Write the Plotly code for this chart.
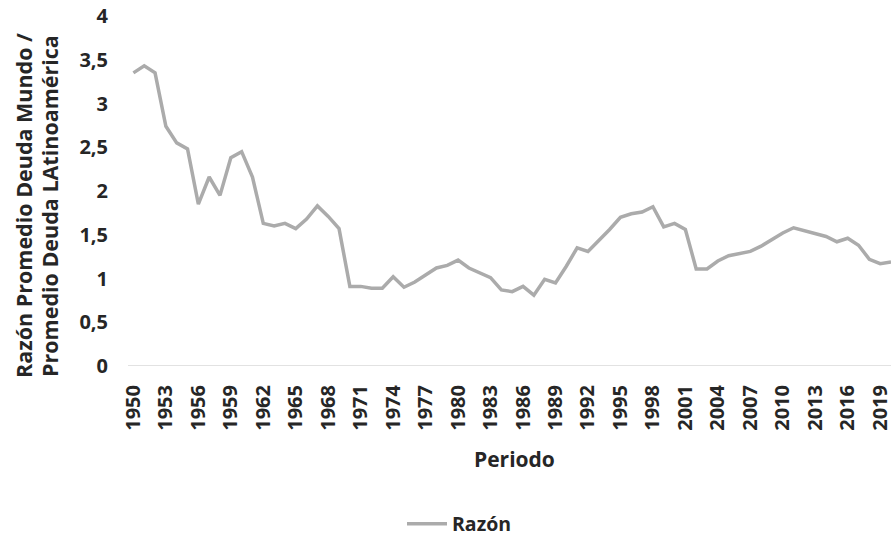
import plotly.graph_objects as go

years = list(range(1950, 2021))
razon = [3.35, 3.43, 3.35, 2.74, 2.55, 2.48, 1.85, 2.16, 1.95, 2.38,
         2.45, 2.16, 1.63, 1.60, 1.63, 1.57, 1.68, 1.83, 1.71, 1.57,
         0.91, 0.91, 0.89, 0.89, 1.02, 0.90, 0.96, 1.04, 1.12, 1.15,
         1.21, 1.12, 1.06, 1.01, 0.87, 0.85, 0.91, 0.81, 0.99, 0.95,
         1.14, 1.35, 1.31, 1.43, 1.56, 1.70, 1.74, 1.76, 1.82, 1.59,
         1.63, 1.56, 1.11, 1.11, 1.20, 1.26, 1.29, 1.31, 1.37, 1.45,
         1.52, 1.58, 1.55, 1.51, 1.48, 1.42, 1.46, 1.38, 1.22, 1.17,
         1.19]
tick_years = list(range(1950, 2020, 3))
y_ticks = [0, 0.5, 1, 1.5, 2, 2.5, 3, 3.5, 4]
y_title_lines = ["Razón Promedio Deuda Mundo /", "Promedio Deuda LAtinoamérica"]

FONT = "Open Sans"
TXT = "#262626"
W, H = 891, 537

# plot area in window pixels (the page body margin is removed below)
PL, PR, PT, PB = 128, 891, 16, 366
PW, PH = PR - PL, PB - PT


def px(x):
    return (x - PL) / PW


def py(y):
    return (PB - y) / PH


fig = go.Figure()
fig.add_trace(go.Scatter(
    x=years, y=razon, mode="lines", name="Razón",
    line=dict(color="#ababab", width=3.5),
))

annotations = [
    dict(text=t, xref="paper", yref="paper", x=px(xc), y=py(206),
         xanchor="center", yanchor="middle", textangle=-90, showarrow=False,
         font=dict(size=21.5, family=FONT, color=TXT, weight="bold"))
    for t, xc in zip(y_title_lines, [23, 49])
]
annotations.append(
    dict(text="Periodo", xref="paper", yref="paper", x=px(514), y=py(459),
         xanchor="center", yanchor="middle", showarrow=False,
         font=dict(size=21, family=FONT, color=TXT, weight="bold")))

fig.update_layout(
    width=W, height=H,
    margin=dict(l=PL, r=W - PR, t=PT, b=H - PB),
    paper_bgcolor="white", plot_bgcolor="white",
    separators=",.",
    font=dict(family=FONT, color=TXT),
    showlegend=True,
    legend=dict(orientation="h", xref="container", yref="container",
                x=402 / W, xanchor="left", y=(H - 524) / H, yanchor="middle",
                font=dict(size=19.5, family=FONT, color=TXT, weight="bold"),
                itemwidth=40),
    xaxis=dict(range=[1949.5, 2020.0], tickmode="array", tickvals=tick_years,
               ticktext=[str(t) for t in tick_years], tickangle=-90,
               showgrid=False, zeroline=False, showline=False,
               ticks="", ticklabelstandoff=14, automargin=False,
               ticklabeloverflow="allow",
               tickfont=dict(size=20, family=FONT, color=TXT, weight="bold")),
    yaxis=dict(range=[0, 4], tickmode="array", tickvals=y_ticks,
               showgrid=False, zeroline=False, showline=False, ticks="",
               ticklabelstandoff=19, automargin=False,
               ticklabeloverflow="allow",
               tickfont=dict(size=20, family=FONT, color=TXT, weight="bold")),
    annotations=annotations,
    shapes=[dict(type="line", xref="paper", yref="y", x0=0, x1=1, y0=0, y1=0,
                 line=dict(color="#d9d9d9", width=1.3), layer="below")],
)

fig.write_html("out.html",
               config={"displayModeBar": False},
               post_script="document.body.style.margin='0';"
                           "document.body.style.overflow='hidden';")
